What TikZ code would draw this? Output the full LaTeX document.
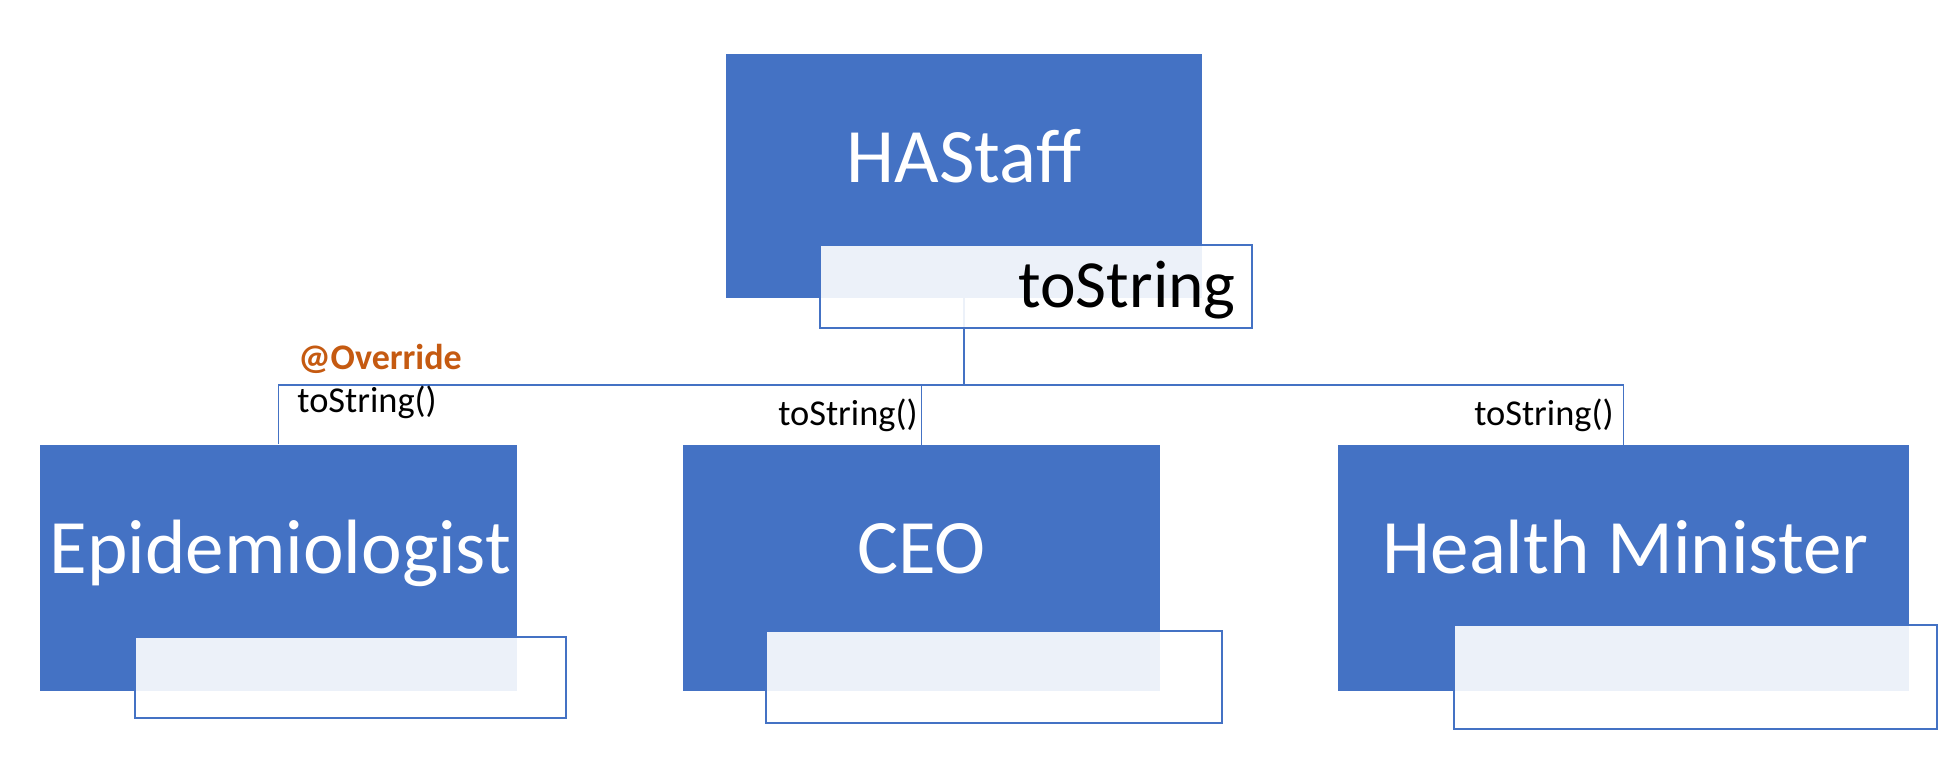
\documentclass[tikz,border=0pt]{standalone}
\usepackage{fontspec}
\setmainfont{Carlito}
\definecolor{boxblue}{HTML}{4472C4}
\definecolor{ovorange}{HTML}{C55A11}
\tikzset{
  x=0.5pt, y=-0.5pt,
  bluebox/.style={rectangle, fill=boxblue, draw=none, inner sep=0pt, anchor=center},
  subbox/.style={rectangle, fill=white, fill opacity=0.9, draw=boxblue, draw opacity=1, line width=0.8pt, inner sep=0pt, anchor=center},
  biglabel/.style={text=white, inner sep=0pt, anchor=base, font=\fontsize{38.5pt}{46pt}\selectfont},
  smalllabel/.style={text=black, inner sep=0pt, font=\fontsize{18.2pt}{22pt}\selectfont},
  conn/.style={draw=boxblue, line width=0.75pt}
}
\begin{document}
\begin{tikzpicture}
\useasboundingbox (0,0) rectangle (1956,783);
% main boxes
\node[bluebox, minimum width=238pt, minimum height=122pt] (ha) at (964,176) {};
\node[bluebox, minimum width=238.5pt, minimum height=123pt] (epi) at (278.5,567.5) {};
\node[bluebox, minimum width=238.5pt, minimum height=123pt] (ceo) at (921.5,568) {};
\node[bluebox, minimum width=285.5pt, minimum height=123pt] (hm) at (1623.5,568) {};
% connectors
\coordinate (bus) at (0,385);
\draw[conn] (ha.south) -- (ha.south |- bus);
\draw[conn] (epi.north) -- (epi.north |- bus) -- (hm.north |- bus) -- (hm.north);
\draw[conn] (ceo.north) -- (ceo.north |- bus);
% sub boxes
\node[subbox, minimum width=216pt, minimum height=41.5pt] (hasub) at (1036,286.5) {};
\node[subbox, minimum width=215.5pt, minimum height=40.5pt] (episub) at (350.5,677.5) {};
\node[subbox, minimum width=228pt, minimum height=46pt] (ceosub) at (994,677) {};
\node[subbox, minimum width=241.5pt, minimum height=52pt] (hmsub) at (1695.5,677) {};
% labels
\node[biglabel] (hatext) at (964,182) {HAStaff};
\node[biglabel] (epitext) at (280.5,573) {Epidemiologist};
\node[biglabel] (ceotext) at (921.5,573) {CEO};
\node[biglabel] (hmtext) at (1625.5,573) {Health Minister};
\node[inner sep=0pt, anchor=base east, font=\fontsize{33.7pt}{40pt}\selectfont] (hasubtext) at (1236,307) {toString};
\node[inner sep=0pt, anchor=base west, text=ovorange, font=\fontsize{18pt}{22pt}\selectfont\bfseries] (override) at (298,369) {@Override};
\node[smalllabel, anchor=base west] (epits) at (297,412) {toString()};
\node[smalllabel, anchor=base east] (ceots) at (918,425) {toString()};
\node[smalllabel, anchor=base east] (hmts) at (1614,425) {toString()};
\end{tikzpicture}
\end{document}
